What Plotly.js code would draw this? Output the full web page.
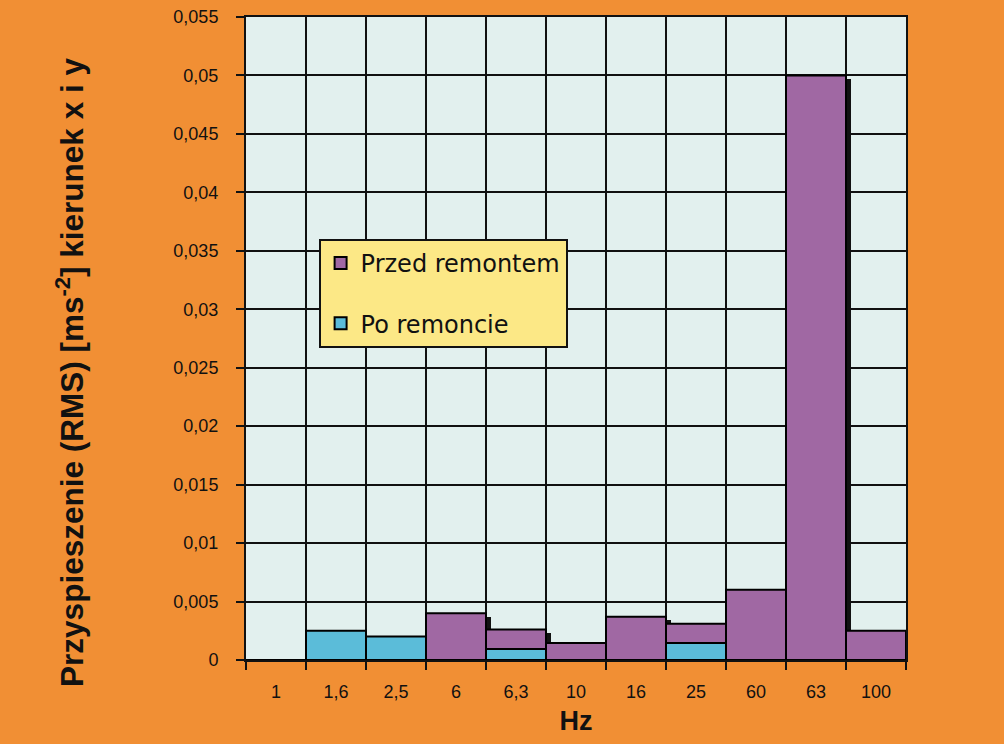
<!DOCTYPE html>
<html>
<head>
<meta charset="utf-8">
<script src="https://cdn.plot.ly/plotly-3.0.1.min.js"></script>
<style>html,body{margin:0;padding:0;background:#F18F34;}#chart{width:1004px;height:744px;}</style>
</head>
<body>
<div id="chart"></div>
<script>
const categories = ["1","1,6","2,5","6","6,3","10","16","25","60","63","100"];
const przedRemontem = [0, 0, 0, 0.004, 0.0026, 0.00145, 0.0037, 0.0031, 0.006, 0.05, 0.0025];
const poRemoncie   = [0, 0.0025, 0.002, 0, 0.00095, 0, 0, 0.00145, 0, 0, 0];
const yTickVals = [0,0.005,0.01,0.015,0.02,0.025,0.03,0.035,0.04,0.045,0.05,0.055];
const yTickText = ["0","0,005","0,01","0,015","0,02","0,025","0,03","0,035","0,04","0,045","0,05","0,055"];
const yTitle = '<b>Przyspieszenie (RMS) [ms<sup>-2</sup>] kierunek x i y</b>';

const FONT = '"Liberation Sans", Arial, sans-serif';

// shadow (drawn behind the "przed" bars, shifted right/down)
const shadow = {
  type: 'bar', x: categories,
  y: przedRemontem.map(v => Math.max(0, v - 0.0003)),
  width: 1, offset: -0.5 + 0.08,
  marker: {color: '#111111', line: {width: 0}},
  showlegend: false, hoverinfo: 'skip'
};
const przed = {
  type: 'bar', name: 'Przed remontem', x: categories, y: przedRemontem,
  width: 1, marker: {color: '#A068A3', line: {color: '#000', width: 2}},
  legendgroup: 'a'
};
const po = {
  type: 'bar', name: 'Po remoncie', x: categories, y: poRemoncie,
  width: 1, marker: {color: '#5BBCD9', line: {color: '#000', width: 2}},
  legendgroup: 'b'
};

const layout = {
  width: 1004, height: 744,
  paper_bgcolor: '#F18F34', plot_bgcolor: '#E2F0EE',
  margin: {l: 246, r: 98, t: 17, b: 84},
  barmode: 'overlay',
  bargap: 0,
  font: {family: FONT, color: '#111'},
  showlegend: true,
  legend: {
    x: 0.11, y: 0.655, xanchor: 'left', yanchor: 'top',
    bgcolor: '#FCE886', bordercolor: '#111', borderwidth: 2,
    font: {family: '"DejaVu Sans", Verdana, sans-serif', size: 24, color: '#111'},
    traceorder: 'grouped', tracegroupgap: 26,
    itemwidth: 30
  },
  xaxis: {
    type: 'category', tickson: 'boundaries',
    range: [-0.5, 10.5],
    showgrid: true, gridcolor: '#111', gridwidth: 2,
    showline: true, linecolor: '#111', linewidth: 2, mirror: true,
    ticks: 'outside', ticklen: 8, tickwidth: 2, tickcolor: '#111',
    tickfont: {family: FONT, size: 18, color: '#111'},
    ticklabelstandoff: 14,
    title: {text: '<b>Hz</b>', font: {family: FONT, size: 27, color: '#111'}, standoff: 11}
  },
  yaxis: {
    range: [0, 0.055], tickvals: yTickVals, ticktext: yTickText,
    showgrid: true, gridcolor: '#111', gridwidth: 2, zeroline: false,
    showline: true, linecolor: '#111', linewidth: 2, mirror: true,
    ticks: 'outside', ticklen: 8, tickwidth: 2, tickcolor: '#111',
    tickfont: {family: FONT, size: 18, color: '#111'},
    ticklabelstandoff: 14
  },
  annotations: [{
    text: yTitle, textangle: -90, showarrow: false,
    xref: 'paper', yref: 'paper', x: -0.2667, y: 0.448,
    xanchor: 'center', yanchor: 'middle',
    font: {family: FONT, size: 31.5, color: '#111'}
  }]
};

Plotly.newPlot('chart', [shadow, przed, po], layout, {displayModeBar: false, staticPlot: true});
</script>
</body>
</html>
